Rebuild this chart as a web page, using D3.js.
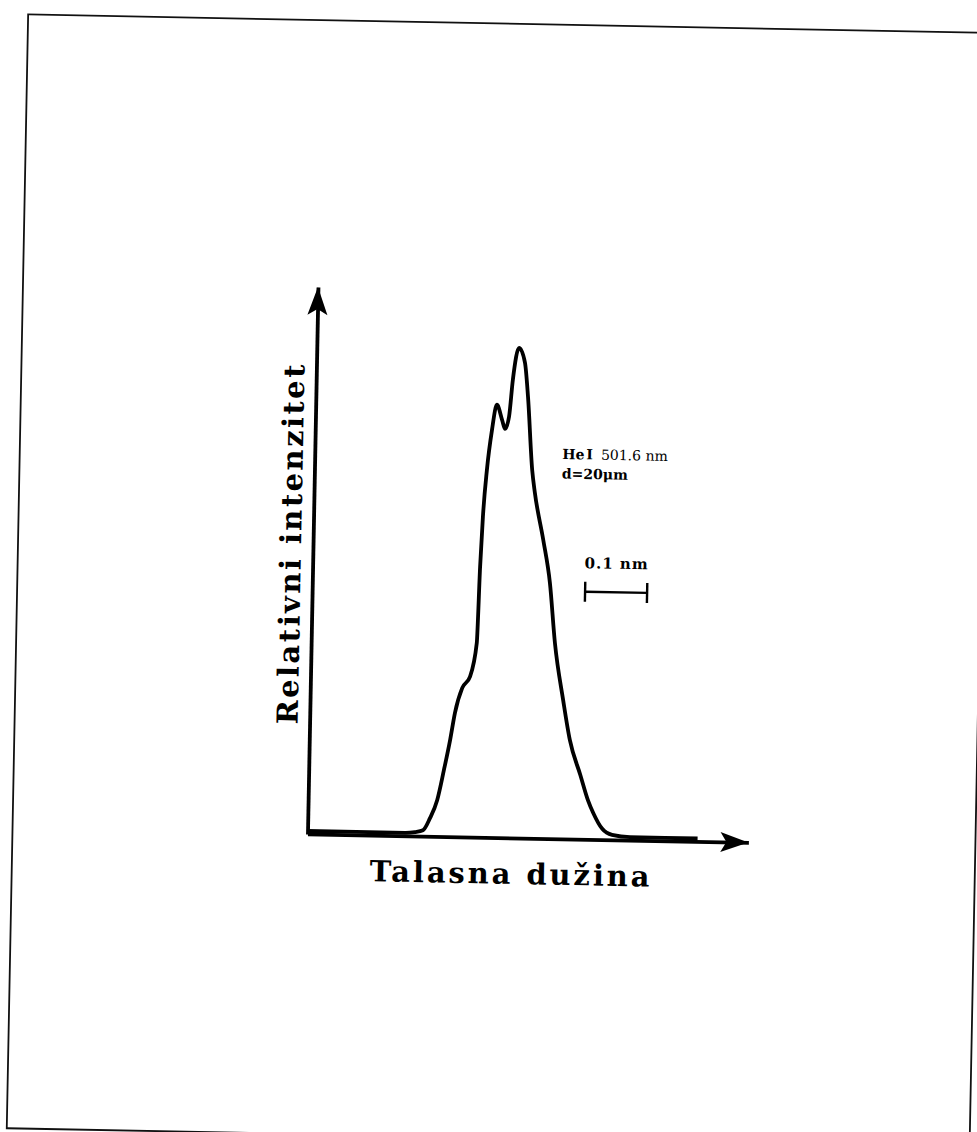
<!DOCTYPE html>
<html>
<head>
<meta charset="utf-8">
<script src="https://cdn.jsdelivr.net/npm/d3@7"></script>
<style>
  html, body { margin: 0; padding: 0; background: #fff; }
  svg { display: block; }
</style>
</head>
<body>
<svg id="svg_fig" width="977" height="1132"></svg>
<script>
// He I 501.6 nm line profile
// delta_lambda: nm from the axis origin, rel_intensity: peak = 1
const delta_lambda = [0.000, 0.157, 0.173, 0.186, 0.197, 0.208, 0.218, 0.227, 0.234, 0.245,
  0.257, 0.267, 0.270, 0.273, 0.278, 0.285, 0.292, 0.301, 0.306, 0.312,
  0.317, 0.326, 0.336, 0.342, 0.351, 0.356, 0.371, 0.383, 0.393, 0.408,
  0.420, 0.438, 0.451, 0.460, 0.475, 0.491, 0.520, 0.629];
const rel_intensity = [0.006, 0.006, 0.008, 0.012, 0.037, 0.074, 0.136, 0.197, 0.253, 0.304,
  0.327, 0.396, 0.551, 0.654, 0.750, 0.832, 0.883, 0.852, 0.834, 0.859,
  0.934, 1.000, 0.970, 0.900, 0.751, 0.705, 0.609, 0.522, 0.399, 0.283,
  0.202, 0.131, 0.080, 0.054, 0.022, 0.010, 0.006, 0.006];

const x_label = 'Talasna dužina';
const y_label = 'Relativni intenzitet';
const line_label = ['He', 'I', '501.6 nm'];
const slit_label = 'd=20μm';
const bar_label = '0.1 nm';
const bar_width_nm = 0.1;

const svg_fig = d3.select('svg#svg_fig');

// the scan is slightly turned clockwise
const tilt = 1.1;
const serif = '\'DejaVu Serif\', \'Liberation Serif\', serif';

const x = d3.scaleLinear().domain([0, 0.711]).range([312, 753]);
const y = d3.scaleLinear().domain([0, 1.116]).range([838, 291]);

const page = svg_fig.append('g')
  .attr('transform', `rotate(${tilt}, 520, 600)`);

// sheet frame
page.append('rect')
  .attr('x', 17)
  .attr('y', 24)
  .attr('width', 963)
  .attr('height', 1114)
  .attr('fill', 'none')
  .attr('stroke', '#111')
  .attr('stroke-width', 1.8);

// axes: bare domain lines, no ticks
const x_axis = page.append('g')
  .attr('transform', `translate(0,${y(0)})`)
  .call(d3.axisBottom(x).ticks(0).tickSizeOuter(0));
const y_axis = page.append('g')
  .attr('transform', `translate(${x(0)},0)`)
  .call(d3.axisLeft(y).ticks(0).tickSizeOuter(0));
[x_axis, y_axis].forEach((g) => {
  g.select('.domain')
    .attr('stroke', '#000')
    .attr('stroke-width', 3.8);
});

// arrow heads
const head = 'M0,0L-28,-10L-22,0L-28,10Z';
page.append('path')
  .attr('d', head)
  .attr('transform', `translate(${x.range()[1]},${y(0)})`)
  .attr('fill', '#000');
page.append('path')
  .attr('d', head)
  .attr('transform', `translate(${x(0)},${y.range()[1]}) rotate(-90)`)
  .attr('fill', '#000');

// profile
const profile = delta_lambda.map((d, i) => [d, rel_intensity[i]]);
const line = d3.line()
  .x(d => x(d[0]))
  .y(d => y(d[1]))
  .curve(d3.curveMonotoneX);
page.append('path')
  .datum(profile)
  .attr('d', line)
  .attr('fill', 'none')
  .attr('stroke', '#000')
  .attr('stroke-width', 3.8)
  .attr('stroke-linejoin', 'round');

// axis titles
page.append('text')
  .attr('transform', `translate(${x(0) - 12},${y(0.59)}) rotate(-90)`)
  .attr('text-anchor', 'middle')
  .attr('textLength', 360)
  .attr('lengthAdjust', 'spacing')
  .style('font-family', serif)
  .style('font-weight', 'bold')
  .style('font-size', '29px')
  .text(y_label);
page.append('text')
  .attr('x', x(0.327))
  .attr('y', y(0) + 46)
  .attr('text-anchor', 'middle')
  .attr('textLength', 280)
  .attr('lengthAdjust', 'spacing')
  .style('font-family', serif)
  .style('font-weight', 'bold')
  .style('font-size', '29px')
  .text(x_label);

// line annotation
const note = page.append('text')
  .attr('x', x(0.399))
  .attr('y', y(0.775))
  .style('font-family', serif)
  .style('font-weight', 'bold')
  .style('font-size', '14px');
note.append('tspan').text(line_label[0]);
note.append('tspan').attr('dx', 2).text(line_label[1]);
note.append('tspan').attr('dx', 8).style('font-weight', 'normal').text(line_label[2]);
page.append('text')
  .attr('x', x(0.399))
  .attr('y', y(0.735))
  .style('font-family', serif)
  .style('font-weight', 'bold')
  .style('font-size', '14px')
  .text(slit_label);

// 0.1 nm scale bar
const bar_x0 = x(0.440),
  bar_x1 = x(0.440 + bar_width_nm),
  bar_y = y(0.505);
const bar = page.append('g')
  .attr('stroke', '#000')
  .attr('stroke-width', 2.4);
bar.append('line').attr('x1', bar_x0).attr('x2', bar_x1).attr('y1', bar_y).attr('y2', bar_y);
[bar_x0, bar_x1].forEach((bx) => {
  bar.append('line').attr('x1', bx).attr('x2', bx).attr('y1', bar_y - 10).attr('y2', bar_y + 10);
});
page.append('text')
  .attr('x', (bar_x0 + bar_x1) / 2)
  .attr('y', y(0.553))
  .attr('text-anchor', 'middle')
  .style('font-family', serif)
  .style('font-weight', 'bold')
  .style('font-size', '15px')
  .style('letter-spacing', '1px')
  .text(bar_label);
</script>
</body>
</html>
